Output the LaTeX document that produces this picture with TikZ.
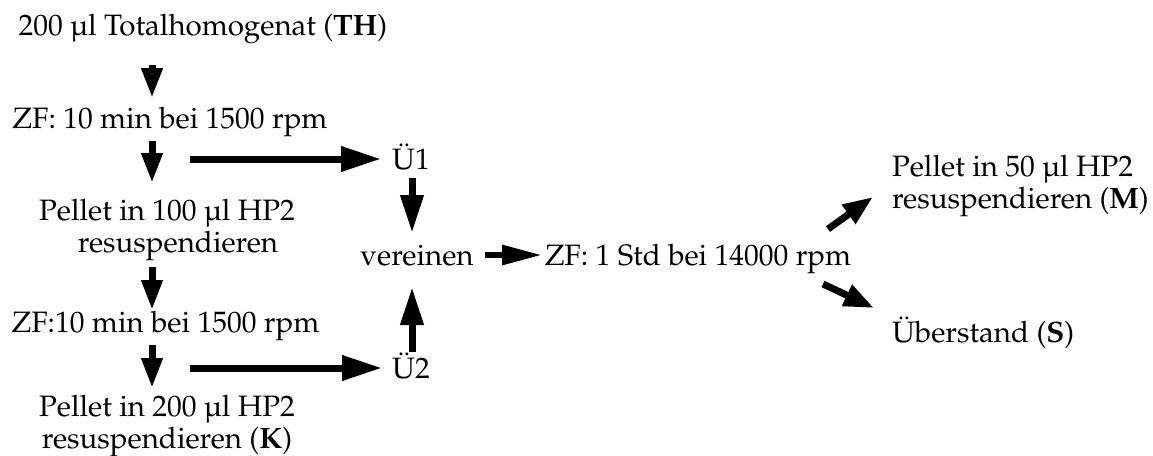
\documentclass[tikz,border=0pt]{standalone}
\usepackage[T1]{fontenc}
\usepackage{mathpazo}
\usetikzlibrary{arrows.meta}
\begin{document}
\begin{tikzpicture}[x=1pt,y=-1pt,
  txt/.style={inner sep=0pt, outer sep=0pt, font=\fontsize{29.5}{32}\selectfont, anchor=base},
  txtl/.style={txt, anchor=base west, align=left},
  vsmall/.style={line width=7pt, -{Triangle[length=30pt,width=20pt]}},
  vlong/.style={line width=7pt, -{Triangle[length=38pt,width=22pt]}},
  hlong/.style={line width=7pt, -{Triangle[length=40pt,width=24pt]}},
  hshort/.style={line width=6pt, -{Triangle[length=40pt,width=19pt]}},
  diag/.style={line width=7pt, -{Triangle[length=30pt,width=22pt]}}
]
\useasboundingbox (0,0) rectangle (1153,455);

% text nodes (multi-line nodes are anchored at the baseline of their last line)
\node[txt] (th) at (203,35) {200 \textmu l Totalhomogenat (\textbf{TH})};
\node[txt] (zf1) at (170,128) {ZF: 10 min bei 1500 rpm};
\node[txt, align=center] (p100) at (167,252) {Pellet in 100 \textmu l HP2\\\hspace*{22pt}resuspendieren};
\node[txt] (zf2) at (165.5,332) {ZF:10 min bei 1500 rpm};
\node[txt, align=center] (p200) at (167,448) {Pellet in 200 \textmu l HP2\\resuspendieren (\textbf{K})};
\node[txt] (u1) at (411,169) {\"U1};
\node[txt] (u2) at (411,378) {\"U2};
\node[txt] (ver) at (417,265) {vereinen};
\node[txt] (zf3) at (698,265) {ZF: 1 Std bei 14000 rpm};
\node[txtl] (pm) at (892,208) {Pellet in 50 \textmu l HP2\\resuspendieren (\textbf{M})};
\node[txtl] (s) at (892,342) {\"Uberstand (\textbf{S})};

% connector end points
\coordinate (a1s) at (152,65);  \coordinate (a1e) at (152,98);
\coordinate (a2s) at (152,141); \coordinate (a2e) at (152,183);
\coordinate (h1s) at (190,159); \coordinate (h1e) at (381,159);
\coordinate (a3s) at (412,178); \coordinate (a3e) at (412,233);
\coordinate (a4s) at (412,352); \coordinate (a4e) at (412,287);
\coordinate (a5s) at (152,267); \coordinate (a5e) at (152,310);
\coordinate (a6s) at (152,345); \coordinate (a6e) at (152,388);
\coordinate (h2s) at (190,368); \coordinate (h2e) at (382,368);
\coordinate (h3s) at (485,255); \coordinate (h3e) at (542,255);
\coordinate (d1s) at (828,229); \coordinate (d1e) at (873,197);
\coordinate (d2s) at (823,284); \coordinate (d2e) at (874,308);

% connectors
\draw[vsmall] (a1s) -- (a1e);
\draw[vsmall] (a2s) -- (a2e);
\draw[hlong]  (h1s) -- (h1e);
\draw[vlong]  (a3s) -- (a3e);
\draw[vlong]  (a4s) -- (a4e);
\draw[vsmall] (a5s) -- (a5e);
\draw[vsmall] (a6s) -- (a6e);
\draw[hlong]  (h2s) -- (h2e);
\draw[hshort] (h3s) -- (h3e);
\draw[diag]   (d1s) -- (d1e);
\draw[diag]   (d2s) -- (d2e);
\end{tikzpicture}
\end{document}
